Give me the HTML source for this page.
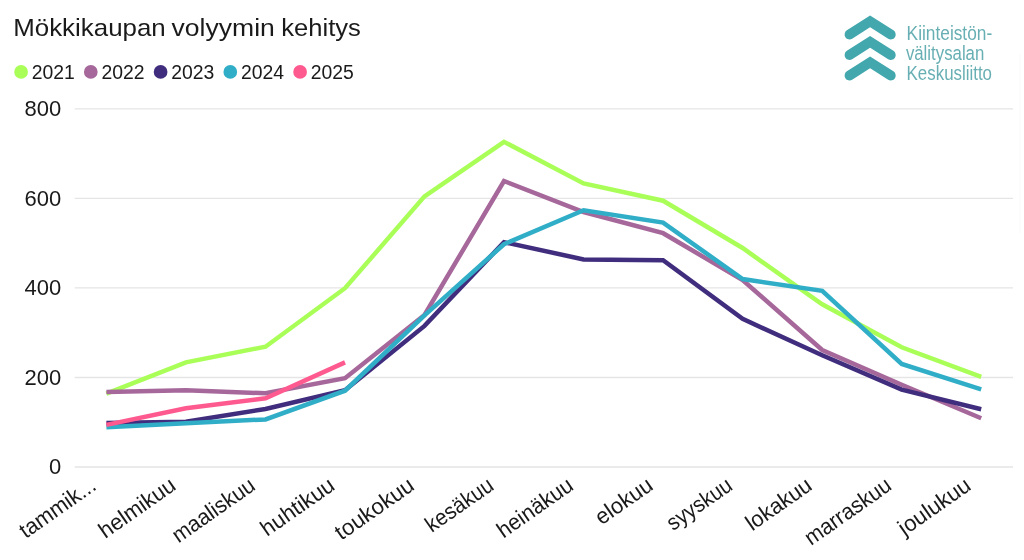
<!DOCTYPE html>
<html lang="fi"><head><meta charset="utf-8"><title>Mökkikaupan volyymin kehitys</title>
<style>
html,body{margin:0;padding:0;background:#fff;overflow:hidden}
svg{display:block}
text{font-family:"Liberation Sans",sans-serif;fill:#1a1a1a}
</style></head><body>
<svg width="1024" height="560" viewBox="0 0 1024 560">
<rect width="1024" height="560" fill="#fff"/>
<line x1="1019.9" y1="54" x2="1019.9" y2="233" stroke="#fcfcfc" stroke-width="1.5"/>
<text y="36.1" font-size="24.6"><tspan x="13.2" textLength="152.6" lengthAdjust="spacingAndGlyphs">Mökkikaupan</tspan> <tspan x="171.6" textLength="103.2" lengthAdjust="spacingAndGlyphs">volyymin</tspan> <tspan x="281.3" textLength="79.6" lengthAdjust="spacingAndGlyphs">kehitys</tspan></text>
<circle cx="21.1" cy="71.9" r="6.85" fill="#A9FF57"/><text x="31.8" y="78.9" font-size="20" textLength="43.1" lengthAdjust="spacingAndGlyphs">2021</text>
<circle cx="90.8" cy="71.9" r="6.85" fill="#A6689A"/><text x="101.5" y="78.9" font-size="20" textLength="43.1" lengthAdjust="spacingAndGlyphs">2022</text>
<circle cx="160.6" cy="71.9" r="6.85" fill="#402D7D"/><text x="171.3" y="78.9" font-size="20" textLength="43.1" lengthAdjust="spacingAndGlyphs">2023</text>
<circle cx="230.3" cy="71.9" r="6.85" fill="#31AEC7"/><text x="241.0" y="78.9" font-size="20" textLength="43.1" lengthAdjust="spacingAndGlyphs">2024</text>
<circle cx="300.1" cy="71.9" r="6.85" fill="#FF5A8F"/><text x="310.8" y="78.9" font-size="20" textLength="43.1" lengthAdjust="spacingAndGlyphs">2025</text>
<line x1="74.7" y1="108.85" x2="1013" y2="108.85" stroke="#e5e5e5" stroke-width="1.4"/><text transform="translate(61.2,116.3) scale(0.965,1)" font-size="22.8" text-anchor="end">800</text>
<line x1="74.7" y1="198.4" x2="1013" y2="198.4" stroke="#e5e5e5" stroke-width="1.4"/><text transform="translate(61.2,205.9) scale(0.965,1)" font-size="22.8" text-anchor="end">600</text>
<line x1="74.7" y1="287.9" x2="1013" y2="287.9" stroke="#e5e5e5" stroke-width="1.4"/><text transform="translate(61.2,295.4) scale(0.965,1)" font-size="22.8" text-anchor="end">400</text>
<line x1="74.7" y1="377.45" x2="1013" y2="377.45" stroke="#e5e5e5" stroke-width="1.4"/><text transform="translate(61.2,384.9) scale(0.965,1)" font-size="22.8" text-anchor="end">200</text>
<line x1="74.7" y1="466.95" x2="1013" y2="466.95" stroke="#e5e5e5" stroke-width="1.4"/><text transform="translate(61.2,474.4) scale(0.965,1)" font-size="22.8" text-anchor="end">0</text>
<polyline points="106.4,393.6 185.9,362.4 265.5,346.7 345.0,288.2 424.5,196.4 504.0,141.8 583.6,183.4 663.1,200.7 742.6,248.0 822.2,304.3 901.7,347.3 981.2,376.9" fill="none" stroke="#A9FF57" stroke-width="4.5" stroke-linejoin="miter"/>
<polyline points="106.4,392.1 185.9,390.3 265.5,393.3 345.0,378.2 424.5,315.0 504.0,181.0 583.6,212.0 663.1,233.2 742.6,280.0 822.2,350.0 901.7,384.8 981.2,418.3" fill="none" stroke="#A6689A" stroke-width="4.5" stroke-linejoin="miter"/>
<polyline points="106.4,423.0 185.9,421.7 265.5,409.0 345.0,390.3 424.5,325.9 504.0,242.2 583.6,259.4 663.1,260.3 742.6,318.9 822.2,355.3 901.7,389.6 981.2,409.2" fill="none" stroke="#402D7D" stroke-width="4.5" stroke-linejoin="miter"/>
<polyline points="106.4,427.2 185.9,423.3 265.5,419.4 345.0,390.7 424.5,315.3 504.0,244.2 583.6,210.3 663.1,222.6 742.6,279.1 822.2,290.8 901.7,363.9 981.2,389.3" fill="none" stroke="#31AEC7" stroke-width="4.5" stroke-linejoin="miter"/>
<polyline points="106.4,424.9 185.9,408.2 265.5,398.2 345.0,362.4" fill="none" stroke="#FF5A8F" stroke-width="4.5" stroke-linejoin="miter"/>
<text transform="translate(97.7,488.6) rotate(-35)" font-size="22.3" text-anchor="end" textLength="87.9" lengthAdjust="spacingAndGlyphs">tammik...</text>
<text transform="translate(177.2,488.6) rotate(-35)" font-size="22.3" text-anchor="end" textLength="87.9" lengthAdjust="spacingAndGlyphs">helmikuu</text>
<text transform="translate(256.8,488.6) rotate(-35)" font-size="22.3" text-anchor="end" textLength="95.6" lengthAdjust="spacingAndGlyphs">maaliskuu</text>
<text transform="translate(336.3,488.6) rotate(-35)" font-size="22.3" text-anchor="end" textLength="84.5" lengthAdjust="spacingAndGlyphs">huhtikuu</text>
<text transform="translate(415.8,488.6) rotate(-35)" font-size="22.3" text-anchor="end" textLength="90.9" lengthAdjust="spacingAndGlyphs">toukokuu</text>
<text transform="translate(495.3,488.6) rotate(-35)" font-size="22.3" text-anchor="end" textLength="77.5" lengthAdjust="spacingAndGlyphs">kesäkuu</text>
<text transform="translate(574.9,488.6) rotate(-35)" font-size="22.3" text-anchor="end" textLength="87.3" lengthAdjust="spacingAndGlyphs">heinäkuu</text>
<text transform="translate(654.4,488.6) rotate(-35)" font-size="22.3" text-anchor="end" textLength="64.5" lengthAdjust="spacingAndGlyphs">elokuu</text>
<text transform="translate(733.9,488.6) rotate(-35)" font-size="22.3" text-anchor="end" textLength="74.4" lengthAdjust="spacingAndGlyphs">syyskuu</text>
<text transform="translate(813.5,488.6) rotate(-35)" font-size="22.3" text-anchor="end" textLength="74.9" lengthAdjust="spacingAndGlyphs">lokakuu</text>
<text transform="translate(893.0,488.6) rotate(-35)" font-size="22.3" text-anchor="end" textLength="100.2" lengthAdjust="spacingAndGlyphs">marraskuu</text>
<text transform="translate(972.5,488.6) rotate(-35)" font-size="22.3" text-anchor="end" textLength="82.9" lengthAdjust="spacingAndGlyphs">joulukuu</text>
<polyline points="849.5,34.5 870.1,21.3 890.8,34.5" fill="none" stroke="#42A8AE" stroke-width="9.8" stroke-linecap="round" stroke-linejoin="miter"/>
<polyline points="849.5,55.0 870.1,41.8 890.8,55.0" fill="none" stroke="#42A8AE" stroke-width="9.8" stroke-linecap="round" stroke-linejoin="miter"/>
<polyline points="849.5,75.5 870.1,62.3 890.8,75.5" fill="none" stroke="#42A8AE" stroke-width="9.8" stroke-linecap="round" stroke-linejoin="miter"/>
<text x="906.6" y="39.5" font-size="19.3" style="fill:#68afb4" textLength="85.6" lengthAdjust="spacingAndGlyphs">Kiinteistön-</text>
<text x="905.9" y="59.9" font-size="19.3" style="fill:#68afb4" textLength="78.4" lengthAdjust="spacingAndGlyphs">välitysalan</text>
<text x="906.6" y="80.0" font-size="19.3" style="fill:#68afb4" textLength="85.4" lengthAdjust="spacingAndGlyphs">Keskusliitto</text>
</svg></body></html>
